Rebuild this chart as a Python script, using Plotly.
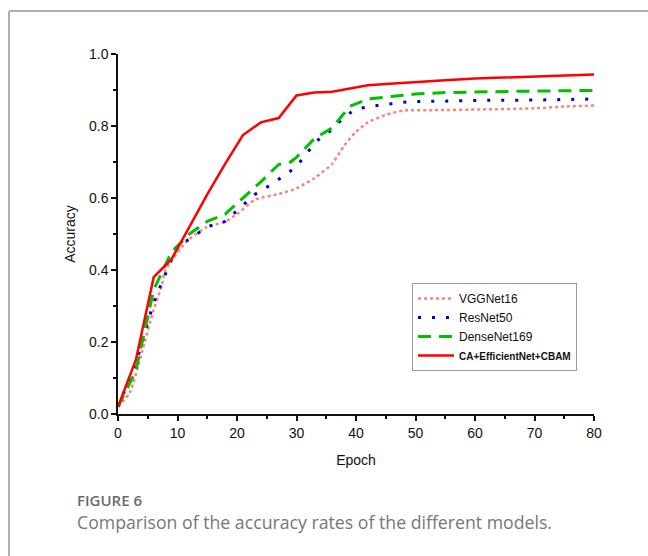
import plotly.graph_objects as go

# ---- data ----
vgg_epoch = [0, 2, 4, 6, 7.3, 8, 11.5, 15, 18, 20, 23, 27, 30, 33, 36, 38, 40, 42, 45, 48, 53, 61, 70, 75, 80]
vgg_acc = [0.02, 0.06, 0.17, 0.29, 0.354, 0.40, 0.479, 0.52, 0.534, 0.555, 0.595, 0.611, 0.627, 0.655, 0.695, 0.745, 0.784, 0.81, 0.831, 0.843, 0.844, 0.846, 0.849, 0.854, 0.857]

res_epoch = [0, 3, 6, 8, 10, 12, 15, 18, 20, 23, 26, 28, 30, 32, 34, 36, 38, 40, 43, 46, 49, 55, 60, 70, 80]
res_acc = [0.02, 0.14, 0.31, 0.39, 0.47, 0.485, 0.52, 0.535, 0.565, 0.61, 0.64, 0.663, 0.687, 0.73, 0.768, 0.79, 0.825, 0.847, 0.856, 0.862, 0.868, 0.869, 0.871, 0.872, 0.875]

dense_epoch = [0, 3, 6, 7.3, 9, 12, 15, 18, 21, 24, 27, 29, 30, 33, 36, 39, 42, 45, 50, 55, 60, 65, 70, 75, 80]
dense_acc = [0.02, 0.12, 0.345, 0.39, 0.45, 0.50, 0.535, 0.555, 0.60, 0.645, 0.693, 0.70, 0.713, 0.765, 0.795, 0.855, 0.875, 0.88, 0.889, 0.893, 0.895, 0.896, 0.897, 0.898, 0.899]

ours_epoch = [0, 3, 6, 9, 12, 15, 18, 21, 24, 27, 30, 33, 36, 39, 42, 45, 50, 55, 60, 65, 70, 75, 80]
ours_acc = [0.02, 0.15, 0.38, 0.43, 0.52, 0.61, 0.695, 0.775, 0.81, 0.822, 0.885, 0.893, 0.895, 0.903, 0.913, 0.917, 0.921, 0.927, 0.932, 0.935, 0.939, 0.941, 0.943]

x_ticks = [0, 10, 20, 30, 40, 50, 60, 70, 80]
y_ticks = [0.0, 0.2, 0.4, 0.6, 0.8, 1.0]
y_ticklabels = ["0.0", "0.2", "0.4", "0.6", "0.8", "1.0"]

fig = go.Figure()
fig.add_trace(go.Scatter(x=vgg_epoch, y=vgg_acc, mode="lines", name="VGGNet16",
                         line=dict(color="#ff8080", width=2.5, dash="dot", shape="spline", smoothing=0.6)))
fig.add_trace(go.Scatter(x=res_epoch, y=res_acc, mode="lines", name="ResNet50",
                         line=dict(color="#0000cc", width=3, dash="3px,11px")))
fig.add_trace(go.Scatter(x=dense_epoch, y=dense_acc, mode="lines", name="DenseNet169",
                         line=dict(color="#00c000", width=3, dash="13px,8px")))
fig.add_trace(go.Scatter(x=ours_epoch, y=ours_acc, mode="lines",
                         name="<b><span style='font-size:10px;font-family:Liberation Sans Narrow, Liberation Sans'>CA+EfficientNet+CBAM</span></b>",
                         line=dict(color="#ff0000", width=2.5)))

L, T, R, B = 118, 54, 54, 142
W, H = 648, 556
pw, ph = W - L - R, H - T - B

def px(xp):
    return (xp - L) / pw

def py(yp):
    return (H - B - yp) / ph

fig.update_layout(
    width=W, height=H, autosize=False,
    margin=dict(l=L, r=R, t=T, b=B, pad=0),
    plot_bgcolor="white", paper_bgcolor="white",
    font=dict(family="Liberation Sans, Arial, sans-serif", color="#111", size=13),
    showlegend=True,
    legend=dict(x=px(412), y=py(283), xanchor="left", yanchor="top",
                bordercolor="#999", borderwidth=1, bgcolor="white",
                font=dict(size=12, color="#111"), tracegroupgap=0,
                itemwidth=36),
    xaxis=dict(range=[0, 80], tickvals=x_ticks, showgrid=False, zeroline=False,
               showline=True, linecolor="#111", linewidth=1.5,
               ticks="outside", ticklen=5, tickwidth=1.5, tickcolor="#111",
               minor=dict(ticks="outside", ticklen=3, tickwidth=1.5, dtick=5, tickcolor="#111", showgrid=False),
               title=dict(text="Epoch", standoff=16, font=dict(size=14)),
               tickfont=dict(size=14)),
    yaxis=dict(range=[0, 1], tickvals=y_ticks, ticktext=y_ticklabels, showgrid=False, zeroline=False,
               showline=True, linecolor="#111", linewidth=1.5,
               ticks="outside", ticklen=5, tickwidth=1.5, tickcolor="#111",
               minor=dict(ticks="outside", ticklen=3, tickwidth=1.5, dtick=0.1, tickcolor="#111", showgrid=False),
               title=dict(text="Accuracy", standoff=10, font=dict(size=14)),
               tickfont=dict(size=14)),
    shapes=[
        dict(type="line", xref="paper", yref="paper", x0=px(9), x1=px(W + 5), y0=py(11), y1=py(11),
             line=dict(color="#b0b0b0", width=2)),
        dict(type="line", xref="paper", yref="paper", x0=px(9), x1=px(9), y0=py(11), y1=py(H + 5),
             line=dict(color="#b0b0b0", width=2)),
    ],
    annotations=[
        dict(text="FIGURE 6", xref="paper", yref="paper", x=px(75), y=py(500), xanchor="left", yanchor="middle",
             showarrow=False, font=dict(family="Open Sans, sans-serif", size=15, color="#6a6a6a", weight=600)),
        dict(text="Comparison of the accuracy rates of the different models.", xref="paper", yref="paper",
             x=px(75), y=py(522), xanchor="left", yanchor="middle", showarrow=False,
             font=dict(family="Open Sans, sans-serif", size=17.7, color="#777")),
    ],
)

fig.write_html("out.html", config={"displayModeBar": False},
               post_script="document.body.style.margin='0';document.body.style.padding='0';")
